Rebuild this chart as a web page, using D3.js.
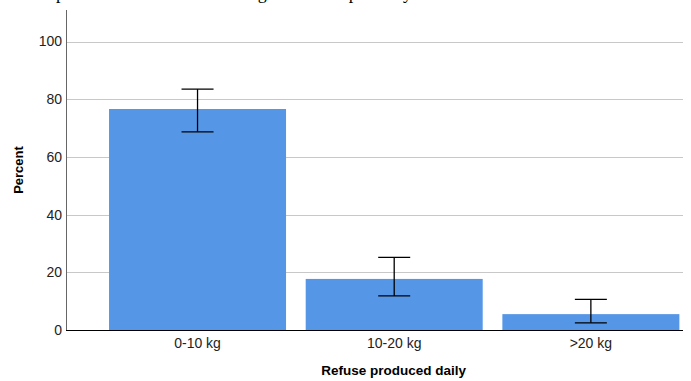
<!DOCTYPE html>
<html>
<head>
<meta charset="utf-8">
<script src="https://cdn.jsdelivr.net/npm/d3@7"></script>
<style>
    body { margin: 0; background: #fff; }
    svg { display: block; }
</style>
</head>
<body>
<script>
// data
var categories = ["0-10 kg", "10-20 kg", ">20 kg"];
var percents = [76.6, 17.7, 5.5];
var ciLow = [68.7, 11.8, 2.5];
var ciHigh = [83.5, 25.2, 10.6];
var yTicks = [0, 20, 40, 60, 80, 100];

var svg_width = 691;
var svg_height = 381;

var svg = d3.select("body")
    .append("svg")
    .attr("width", svg_width)
    .attr("height", svg_height);

// caption line from the document, cut off at the top
svg.append("text")
    .attr("x", 22)
    .attr("y", -1)
    .attr("textLength", 390)
    .style("font-family", "'Liberation Serif', 'Times New Roman', serif")
    .style("font-size", "18px")
    .attr("fill", "#000")
    .text("Simple bar chart of refuse generated per day");

var axisLeft = 67, axisRight = 683, axisTop = 10, axisBottom = 330;

var y = d3.scaleLinear()
    .domain([0, 111])
    .range([axisBottom, axisBottom - 111 * 2.885]);

var x = d3.scaleBand()
    .domain(categories)
    .range([99.2, 689.2])
    .paddingInner(0.1)
    .paddingOuter(0.05);

// grid
svg.selectAll("line.grid")
    .data(yTicks.filter(function (d) { return d > 0; }))
    .enter()
    .append("line")
    .attr("class", "grid")
    .attr("x1", axisLeft)
    .attr("x2", axisRight)
    .attr("y1", function (d) { return Math.round(y(d)) + 0.5; })
    .attr("y2", function (d) { return Math.round(y(d)) + 0.5; })
    .attr("stroke", "#c8c8c8")
    .attr("stroke-width", 1);

// y axis
var yAxis = d3.axisLeft(y).tickValues(yTicks).tickSize(0).tickPadding(5);
var gy = svg.append("g")
    .attr("transform", "translate(" + axisLeft + ",0)")
    .call(yAxis);
gy.select(".domain").remove();
gy.selectAll("text")
    .style("font-family", "'Liberation Sans', Arial, sans-serif")
    .style("font-size", "14px")
    .attr("fill", "#222");
svg.append("line")
    .attr("x1", axisLeft - 0.5).attr("x2", axisLeft - 0.5)
    .attr("y1", axisTop).attr("y2", axisBottom)
    .attr("stroke", "#666");

// bars
svg.selectAll("rect.bar")
    .data(percents)
    .enter()
    .append("rect")
    .attr("class", "bar")
    .attr("x", function (d, i) { return x(categories[i]); })
    .attr("y", function (d) { return y(d); })
    .attr("width", x.bandwidth())
    .attr("height", function (d) { return y(0) - y(d); })
    .attr("fill", "#5596e6");

// x axis line
svg.append("line")
    .attr("x1", axisLeft - 1).attr("x2", axisRight)
    .attr("y1", axisBottom + 0.5).attr("y2", axisBottom + 0.5)
    .attr("stroke", "#000");

// error bars
var err = svg.selectAll("g.err")
    .data(percents)
    .enter()
    .append("g")
    .attr("class", "err")
    .attr("stroke", "#000")
    .attr("stroke-width", 1.3);
var cx = function (d, i) { return x(categories[i]) + x.bandwidth() / 2; };
err.append("line")
    .attr("x1", cx).attr("x2", cx)
    .attr("y1", function (d, i) { return y(ciHigh[i]); })
    .attr("y2", function (d, i) { return y(ciLow[i]); });
err.append("line")
    .attr("x1", function (d, i) { return cx(d, i) - 16; })
    .attr("x2", function (d, i) { return cx(d, i) + 16; })
    .attr("y1", function (d, i) { return y(ciHigh[i]); })
    .attr("y2", function (d, i) { return y(ciHigh[i]); });
err.append("line")
    .attr("x1", function (d, i) { return cx(d, i) - 16; })
    .attr("x2", function (d, i) { return cx(d, i) + 16; })
    .attr("y1", function (d, i) { return y(ciLow[i]); })
    .attr("y2", function (d, i) { return y(ciLow[i]); });

// x tick labels
var xAxis = d3.axisBottom(x).tickSize(0).tickPadding(8);
var gx = svg.append("g")
    .attr("transform", "translate(0," + axisBottom + ")")
    .call(xAxis);
gx.select(".domain").remove();
gx.selectAll("text")
    .style("font-family", "'Liberation Sans', Arial, sans-serif")
    .style("font-size", "14px")
    .attr("fill", "#222");

// axis titles
svg.append("text")
    .attr("x", (x.range()[0] + x.range()[1]) / 2 - 0.5)
    .attr("y", 375)
    .attr("text-anchor", "middle")
    .style("font-family", "'Liberation Sans', Arial, sans-serif")
    .style("font-size", "13.5px")
    .style("font-weight", "bold")
    .text("Refuse produced daily");

svg.append("text")
    .attr("transform", "translate(23," + (axisTop + axisBottom) / 2 + ") rotate(-90)")
    .attr("text-anchor", "middle")
    .style("font-family", "'Liberation Sans', Arial, sans-serif")
    .style("font-size", "13px")
    .style("font-weight", "bold")
    .text("Percent");
</script>
</body>
</html>
